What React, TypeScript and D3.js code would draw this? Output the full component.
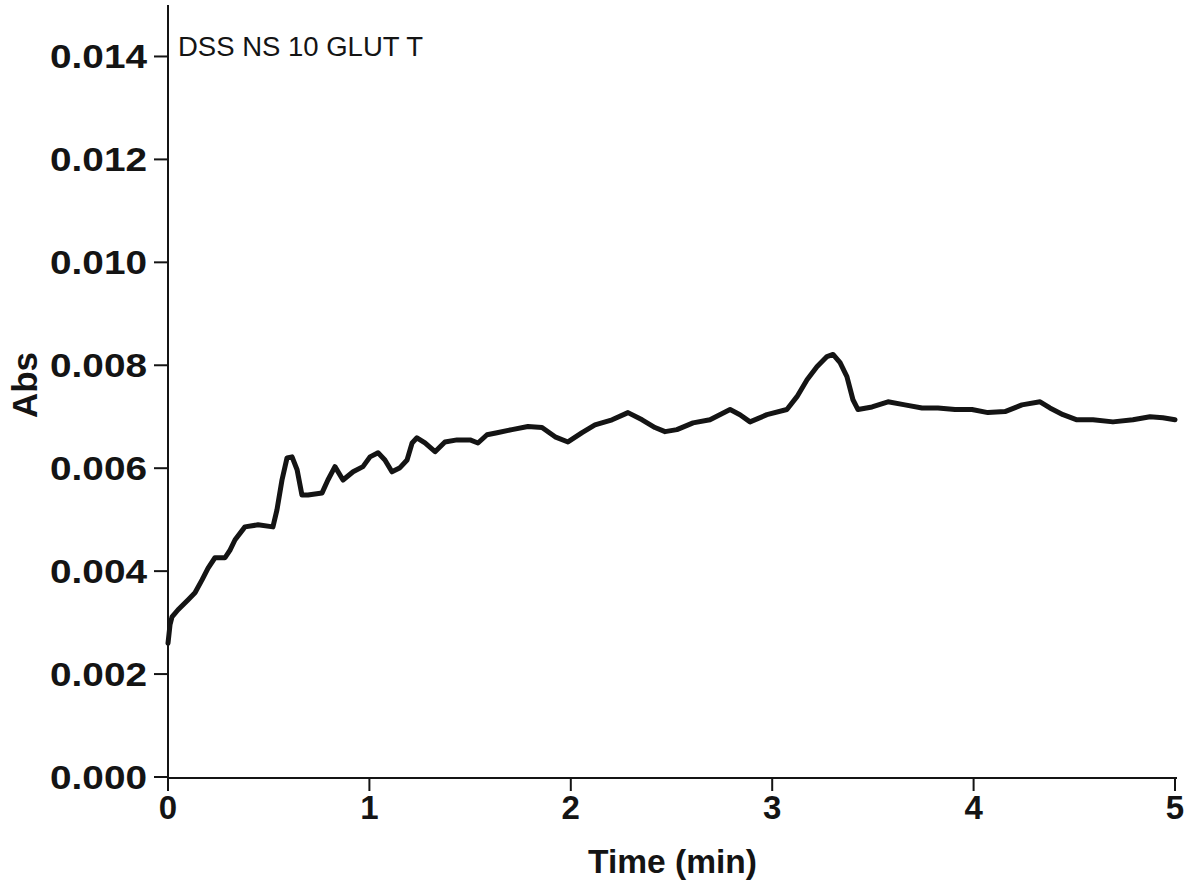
import React from "react";
import * as d3 from "d3";

const title = "DSS NS 10 GLUT T";
const xLabel = "Time (min)";
const yLabel = "Abs";
const xTicks = [0, 1, 2, 3, 4, 5];
const yTicks = [0, 0.002, 0.004, 0.006, 0.008, 0.01, 0.012, 0.014];

const times = [
  0, 0.01, 0.02, 0.05, 0.099, 0.134, 0.169, 0.199, 0.233, 0.283, 0.308, 0.333, 0.382, 0.447,
  0.521, 0.541, 0.566, 0.591, 0.616, 0.641, 0.665, 0.695, 0.765, 0.794, 0.829, 0.869, 0.919,
  0.968, 1.003, 1.043, 1.077, 1.112, 1.152, 1.187, 1.212, 1.236, 1.276, 1.326, 1.375, 1.435,
  1.5, 1.539, 1.584, 1.634, 1.708, 1.787, 1.857, 1.922, 1.986, 2.056, 2.12, 2.205, 2.284,
  2.354, 2.418, 2.468, 2.527, 2.607, 2.691, 2.791, 2.84, 2.89, 2.974, 3.073, 3.123, 3.173,
  3.222, 3.272, 3.302, 3.337, 3.371, 3.401, 3.426, 3.496, 3.575, 3.659, 3.744, 3.823, 3.908,
  3.992, 4.071, 4.156, 4.24, 4.33, 4.379, 4.444, 4.513, 4.593, 4.692, 4.791, 4.876, 4.94, 5.0,
];
const absValues = [
  0.0026, 0.00296, 0.00311, 0.00325, 0.00344, 0.00358, 0.00383, 0.00406, 0.00426, 0.00426,
  0.00441, 0.00461, 0.00486, 0.0049, 0.00486, 0.00519, 0.00577, 0.0062, 0.00622, 0.00597,
  0.00548, 0.00548, 0.00552, 0.00577, 0.00603, 0.00577, 0.00593, 0.00603, 0.00622, 0.0063,
  0.00616, 0.00593, 0.00601, 0.00616, 0.00649, 0.00659, 0.00649, 0.00632, 0.00651, 0.00655,
  0.00655, 0.00649, 0.00665, 0.00669, 0.00675, 0.00681, 0.00679, 0.00661, 0.00651, 0.00669,
  0.00684, 0.00694, 0.00708, 0.00694, 0.00679, 0.00671, 0.00675, 0.00688, 0.00694, 0.00714,
  0.00704, 0.0069, 0.00704, 0.00714, 0.00739, 0.00772, 0.00797, 0.00817, 0.00821, 0.00805,
  0.00778, 0.00733, 0.00714, 0.00719, 0.00729, 0.00723, 0.00717, 0.00717, 0.00714, 0.00714,
  0.00708, 0.0071, 0.00723, 0.00729, 0.00717, 0.00704, 0.00694, 0.00694, 0.0069, 0.00694,
  0.007, 0.00698, 0.00694,
];

const W = 1191;
const H = 888;
const left = 168;
const right = 1175;
const top = 5;
const bottom = 777;

export default function App() {
  const x = d3.scaleLinear().domain([0, 5]).range([left, right]);
  const y = d3.scaleLinear().domain([0, 0.015]).range([bottom, top]);
  const data = times.map((t, i) => [t, absValues[i]] as [number, number]);
  const line = d3
    .line<[number, number]>()
    .x((d) => x(d[0]))
    .y((d) => y(d[1]))
    .curve(d3.curveLinear);
  const font = "Arial, 'Liberation Sans', Helvetica, sans-serif";
  const ink = "#141414";
  return (
    <svg
      width={W}
      height={H}
      style={{ position: "absolute", left: 0, top: 0, background: "#fff" }}
      fontFamily={font}
    >
      <rect x={0} y={0} width={W} height={H} fill="#fff" />
      <line x1={left} x2={left} y1={top} y2={bottom} stroke={ink} strokeWidth={2} />
      <line x1={left} x2={right + 2} y1={bottom + 1} y2={bottom + 1} stroke={ink} strokeWidth={2} />
      {yTicks.map((v) => (
        <g key={"y" + v}>
          <line x1={left - 14} x2={left} y1={y(v)} y2={y(v)} stroke={ink} strokeWidth={2} />
          <text
            x={50}
            y={y(v) + 12}
            fontSize={34}
            fontWeight="bold"
            fill={ink}
            textLength={97}
            lengthAdjust="spacingAndGlyphs"
          >
            {v.toFixed(3)}
          </text>
        </g>
      ))}
      {xTicks.map((v) => (
        <g key={"x" + v}>
          <line x1={x(v)} x2={x(v)} y1={bottom + 1} y2={bottom + 14} stroke={ink} strokeWidth={2} />
          <text x={x(v)} y={819} textAnchor="middle" fontSize={33} fontWeight="bold" fill={ink}>
            {v}
          </text>
        </g>
      ))}
      <text
        x={588}
        y={873}
        fontSize={33}
        fontWeight="bold"
        fill={ink}
        textLength={169}
        lengthAdjust="spacingAndGlyphs"
      >
        {xLabel}
      </text>
      <text
        transform={`translate(37, 385) rotate(-90)`}
        textAnchor="middle"
        fontSize={35}
        fontWeight="bold"
        fill={ink}
      >
        {yLabel}
      </text>
      <text x={178} y={56} fontSize={27} fill={ink} textLength={245} lengthAdjust="spacingAndGlyphs">
        {title}
      </text>
      <path
        d={line(data) || ""}
        fill="none"
        stroke={ink}
        strokeWidth={5}
        strokeLinejoin="round"
        strokeLinecap="round"
      />
    </svg>
  );
}
